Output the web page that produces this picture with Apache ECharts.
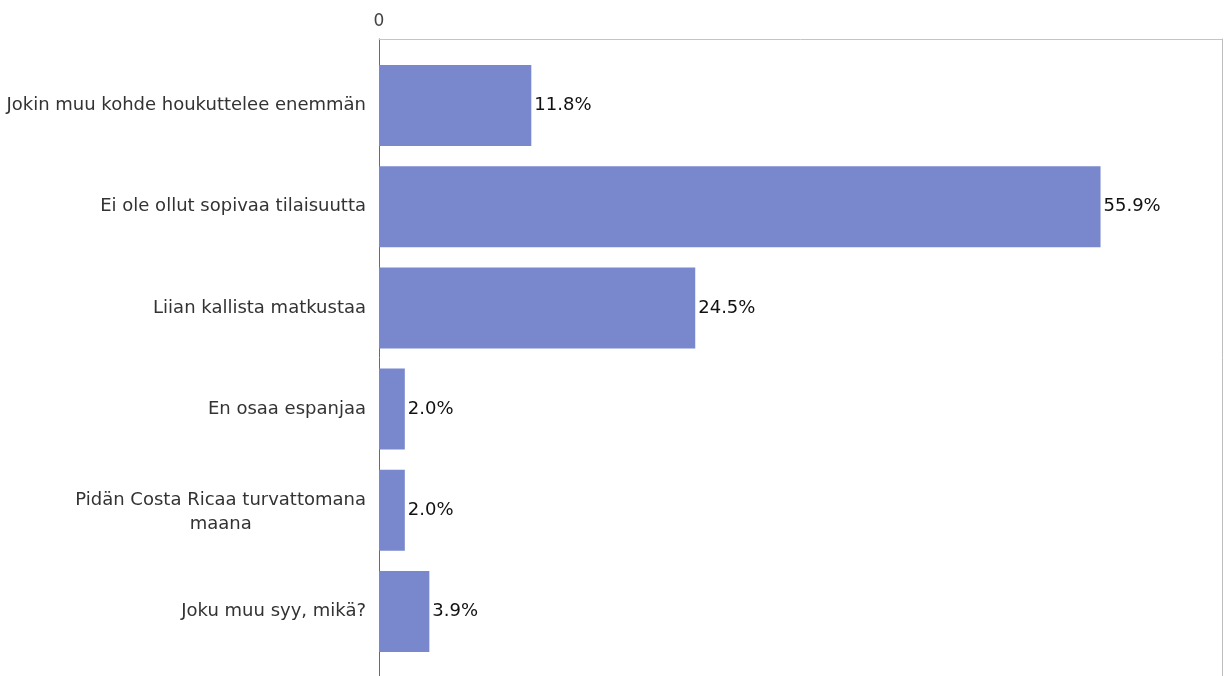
<!DOCTYPE html>
<html>
<head>
<meta charset="utf-8">
<script src="https://cdn.jsdelivr.net/npm/echarts@6/dist/echarts.min.js"></script>
<style>html,body{margin:0;padding:0;background:#fff}#c{width:1226px;height:676px}</style>
</head>
<body>
<div id="c"></div>
<script>
const categories = [
  'Jokin muu kohde houkuttelee enemmän',
  'Ei ole ollut sopivaa tilaisuutta',
  'Liian kallista matkustaa',
  'En osaa espanjaa',
  'Pidän Costa Ricaa turvattomana\nmaana',
  'Joku muu syy, mikä?'
];
const values = [11.8, 55.9, 24.5, 2.0, 2.0, 3.9];
const axisMin = 0;
const axisMax = 65;

const FONT = 'DejaVu Sans';
const frameAxisBase = {
  type: 'value', min: 0, max: 1, gridIndex: 1,
  axisTick: {show: false}, axisLabel: {show: false}, splitLine: {show: false}
};
const chart = echarts.init(document.getElementById('c'), null, {renderer: 'canvas'});
chart.setOption({
  animation: false,
  backgroundColor: '#fff',
  grid: [
    {left: 379, top: 55, bottom: 14, width: 839, containLabel: false},
    {left: 379, top: 39, right: 4, bottom: 0, show: false}
  ],
  xAxis: [
    {
      gridIndex: 0, type: 'value', position: 'top', min: axisMin, max: axisMax, interval: 100,
      axisLine: {show: false}, axisTick: {show: false}, splitLine: {show: false},
      axisLabel: {
        margin: 25, fontFamily: FONT, fontSize: 17, color: '#444',
        formatter: v => (v === 0 ? '0' : '')
      }
    },
    Object.assign({}, frameAxisBase, {
      position: 'top',
      axisLine: {show: true, onZero: false, lineStyle: {color: '#c4c4c4', width: 1}}
    })
  ],
  yAxis: [
    {
      gridIndex: 0, type: 'category', data: categories, inverse: true,
      axisLine: {show: false}, axisTick: {show: false}, splitLine: {show: false},
      axisLabel: {
        margin: 13, fontFamily: FONT, fontSize: 18, color: '#333',
        formatter: v => {
          const lines = v.split('\n');
          if (lines.length === 1) return '{c|' + lines[0] + '}';
          return '{a|' + lines[0] + '}\n{b|' + lines[1] + '}';
        },
        rich: {
          c: {align: 'center', fontFamily: FONT, fontSize: 18, color: '#333', lineHeight: 23},
          a: {align: 'center', fontFamily: FONT, fontSize: 18, color: '#333', lineHeight: 29},
          b: {align: 'center', fontFamily: FONT, fontSize: 18, color: '#333', lineHeight: 19}
        }
      }
    },
    Object.assign({}, frameAxisBase, {
      position: 'left',
      axisLine: {show: true, onZero: false, lineStyle: {color: '#6a6a6a', width: 1}}
    }),
    Object.assign({}, frameAxisBase, {
      position: 'right',
      axisLine: {show: true, onZero: false, lineStyle: {color: '#bdbdbd', width: 1}}
    })
  ],
  series: [{
    type: 'bar', xAxisIndex: 0, yAxisIndex: 0, data: values,
    barCategoryGap: '20%',
    itemStyle: {color: '#7988cd'},
    label: {
      show: true, position: 'right', distance: 3,
      fontFamily: FONT, fontSize: 18, color: '#111',
      formatter: p => p.value.toFixed(1) + '%'
    },
    z: 3
  }]
});
</script>
</body>
</html>
